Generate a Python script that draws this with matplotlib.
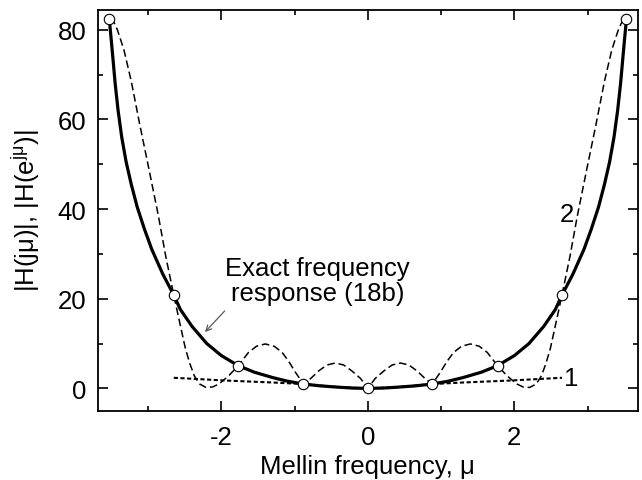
import numpy as np
import matplotlib
matplotlib.use('Agg')
import matplotlib.pyplot as plt
from matplotlib.ticker import MultipleLocator

plt.rcParams['font.family'] = ['Liberation Sans', 'DejaVu Sans']
plt.rcParams['mathtext.fontset'] = 'custom'
plt.rcParams['mathtext.rm'] = 'Liberation Sans'
plt.rcParams['axes.unicode_minus'] = False

FS = 18.5

# right half of each (symmetric) curve
mu_exact = [0, 0.2, 0.4, 0.65, 0.88, 1.1, 1.3, 1.55, 1.77, 2.0, 2.2, 2.4, 2.56,
            2.65, 2.8, 2.95, 3.05, 3.15, 3.23, 3.30, 3.36, 3.41, 3.45, 3.48,
            3.505, 3.53]
h_exact = [0, 0.05, 0.25, 0.55, 0.96, 1.6, 2.4, 3.6, 5.05, 7.3, 10.0, 13.8, 17.6,
           20.8, 25.5, 31, 35.5, 40.5, 45.5, 50.5, 56, 62, 68, 73.5,
           78, 82.3]

mu_curve2 = [0, 0.1, 0.22, 0.33, 0.445, 0.56, 0.67, 0.78, 0.88, 0.99, 1.08, 1.17,
             1.28, 1.40, 1.52, 1.63, 1.77, 1.90, 2.03, 2.12, 2.21, 2.30, 2.37,
             2.43, 2.49, 2.58, 2.65, 2.76, 2.86, 2.99, 3.11, 3.23, 3.33, 3.42,
             3.47, 3.53]
h_curve2 = [0, 2.2, 3.9, 5.2, 5.65, 5.2, 3.9, 2.2, 0.96, 3.6, 6.0, 8.0,
            9.4, 9.9, 9.4, 8.0, 5.05, 2.8, 1.0, 0.3, 0.2, 1.0, 2.8,
            5.5, 8.8, 15.5, 20.8, 29.5, 38.5, 49, 58.5, 68.5, 75.5, 80,
            81.8, 82.3]

mu_curve1 = [0, 0.4, 0.88, 1.3, 1.96, 2.3, 2.65]
h_curve1 = [0, 0.25, 0.96, 1.3, 1.75, 2.05, 2.35]

mu_samples = [0, 0.88, 1.77, 2.65, 3.53]
h_samples = [0, 0.96, 5.05, 20.8, 82.3]


def mirror(x, y):
    x = np.asarray(x, dtype=float)
    y = np.asarray(y, dtype=float)
    return np.concatenate([-x[:0:-1], x]), np.concatenate([y[:0:-1], y])


fig = plt.figure(figsize=(6.42, 4.81), dpi=100)
ax = fig.add_axes([0.152, 0.144, 0.842, 0.834])

x, y = mirror(mu_curve2, h_curve2)
ax.plot(x, y, color='black', lw=1.1, dashes=(5, 2.5), zorder=2)
x, y = mirror(mu_curve1, h_curve1)
ax.plot(x, y, color='black', lw=1.5, dashes=(2, 1.2), zorder=2)
x, y = mirror(mu_exact, h_exact)
ax.plot(x, y, color='black', lw=2.3, zorder=3)
x, y = mirror(mu_samples, h_samples)
ax.plot(x, y, ls='none', marker='o', ms=7.5, mfc='white', mec='black',
        mew=0.8, zorder=4)

ax.text(-0.69, 24, 'Exact frequency\nresponse (18b)', ha='center', va='center',
        fontsize=FS, linespacing=1.05)
ax.annotate('', xy=(-2.25, 12.1), xytext=(-1.93, 17.7),
            arrowprops=dict(arrowstyle='->', color='0.35', lw=0.9))
ax.text(2.72, 39, '2', ha='center', va='center', fontsize=FS)
ax.text(2.77, 2.4, '1', ha='center', va='center', fontsize=FS)

ax.set_xlim(-3.69, 3.69)
ax.set_ylim(-5, 84.5)
ax.xaxis.set_major_locator(MultipleLocator(2))
ax.xaxis.set_minor_locator(MultipleLocator(1))
ax.yaxis.set_major_locator(MultipleLocator(20))
ax.yaxis.set_minor_locator(MultipleLocator(10))
ax.tick_params(which='both', direction='in', top=True, right=True,
               labelsize=FS, width=1.2)
ax.tick_params(which='major', length=7)
ax.tick_params(which='minor', length=3.6)
ax.tick_params(axis='x', pad=10)
ax.tick_params(axis='y', pad=8)
for s in ax.spines.values():
    s.set_linewidth(1.3)

ax.set_xlabel('Mellin frequency, μ', fontsize=FS, labelpad=4)
ax.set_ylabel(r'|H(jμ)|, |H(e$^{\mathregular{jμ}}$)|', fontsize=FS, labelpad=11)

fig.savefig('out.png', dpi=100)
